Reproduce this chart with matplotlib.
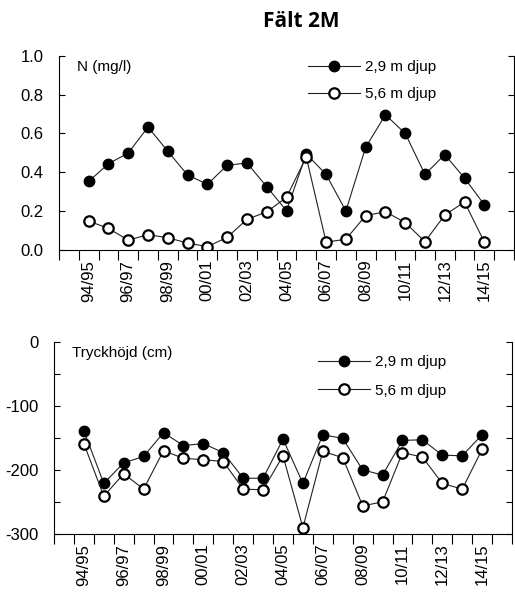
import matplotlib.pyplot as plt
from matplotlib.ticker import MultipleLocator

seasons = ["94/95", "95/96", "96/97", "97/98", "98/99", "99/00", "00/01", "01/02",
           "02/03", "03/04", "04/05", "05/06", "06/07", "07/08", "08/09", "09/10",
           "10/11", "11/12", "12/13", "13/14", "14/15"]

n_29 = [0.353, 0.444, 0.499, 0.633, 0.508, 0.386, 0.338, 0.436, 0.448, 0.326, 0.202,
        0.494, 0.389, 0.201, 0.528, 0.696, 0.600, 0.389, 0.491, 0.370, 0.233]
n_56 = [0.149, 0.111, 0.051, 0.079, 0.063, 0.036, 0.017, 0.065, 0.158, 0.196, 0.271,
        0.479, 0.041, 0.055, 0.177, 0.197, 0.141, 0.043, 0.180, 0.247, 0.041]

tryck_29 = [-139, -221, -189, -179, -142, -162, -159, -173, -213, -213, -152,
            -221, -145, -151, -200, -208, -154, -153, -177, -178, -145]
tryck_56 = [-159, -241, -206, -230, -170, -182, -184, -187, -230, -231, -178,
            -290, -171, -181, -256, -250, -173, -180, -221, -230, -168]

plt.rcParams['font.family'] = ['Liberation Sans', 'DejaVu Sans']
plt.rcParams['font.size'] = 11
plt.rcParams['axes.unicode_minus'] = False

fig = plt.figure(figsize=(5.15, 5.94), dpi=100)
fig.text(0.585, 0.963, "Fält 2M", ha='center', va='center', fontsize=15,
         fontweight='bold', family=['Open Sans', 'DejaVu Sans'])

x = list(range(len(seasons)))
edges = [i - 0.5 for i in range(-1, len(seasons) + 2)]


def draw_panel(ax, s1, s2, ylabel):
    ax.plot(x, s1, color='#222222', lw=0.8, marker='o', ms=7.5,
            mfc='black', mec='black', label='2,9 m djup')
    ax.plot(x, s2, color='#222222', lw=0.8, marker='o', ms=7.5,
            mfc='white', mec='black', mew=1.6, label='5,6 m djup')
    ax.set_xlim(-1.5, len(seasons) + 0.5)
    ax.set_xticks(edges)
    ax.set_xticklabels([])
    ax.set_xticks(x[::2], minor=True)
    ax.set_xticklabels(seasons[::2], minor=True, rotation=90, fontsize=12)
    ax.tick_params(axis='x', which='major', direction='out', length=7, width=0.8)
    ax.tick_params(axis='x', which='minor', length=0, pad=7)
    ax.tick_params(axis='y', which='both', direction='in', length=4, width=0.8,
                   right=True, pad=11, labelsize=12)
    ax.spines['top'].set_visible(False)
    for sp in ax.spines.values():
        sp.set_linewidth(0.8)
    ax.text(0.04, 0.98, ylabel, transform=ax.transAxes, ha='left', va='top')


ax1 = fig.add_axes([59 / 515, 1 - 250 / 594, 455 / 515, 194.3 / 594])
draw_panel(ax1, n_29, n_56, "N (mg/l)")
ax1.set_ylim(0, 1.0)
ax1.yaxis.set_major_locator(MultipleLocator(0.2))
ax1.yaxis.set_major_formatter(plt.FormatStrFormatter('%.1f'))
ax1.legend(loc='upper left', bbox_to_anchor=(308 / 515, 1 - 60 / 594),
           bbox_transform=fig.transFigure, frameon=False, borderpad=0,
           borderaxespad=0, handlelength=3.4, handletextpad=0.3,
           labelspacing=0.85)

ax2 = fig.add_axes([54 / 515, 1 - 534 / 594, 458 / 515, 192.3 / 594])
draw_panel(ax2, tryck_29, tryck_56, "Tryckhöjd (cm)")
ax2.set_ylim(-300, 0)
ax2.yaxis.set_major_locator(MultipleLocator(100))
ax2.yaxis.set_minor_locator(MultipleLocator(50))
ax2.legend(loc='upper left', bbox_to_anchor=(318 / 515, 1 - 355 / 594),
           bbox_transform=fig.transFigure, frameon=False, borderpad=0,
           borderaxespad=0, handlelength=3.4, handletextpad=0.3,
           labelspacing=0.95)

fig.savefig('out.png', dpi=100)
